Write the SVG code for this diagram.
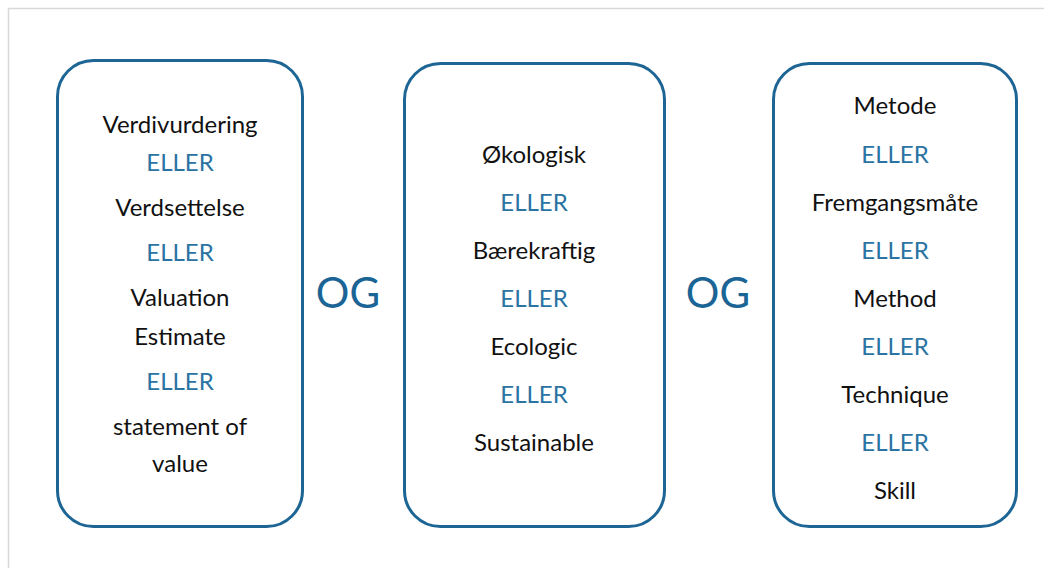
<svg xmlns="http://www.w3.org/2000/svg" width="1044" height="568" viewBox="0 0 1044 568">
  <style>
    .frame { fill: none; stroke: #d9d9d9; stroke-width: 1.5; }
    .box { fill: #ffffff; stroke: #1d6594; stroke-width: 3; }
    .term { font-family: Lato, "Liberation Sans", sans-serif; font-size: 24px; fill: #111111; text-anchor: middle; }
    .or { font-family: Lato, "Liberation Sans", sans-serif; font-size: 24px; fill: #2a73a3; text-anchor: middle; }
    .and { font-family: Lato, "Liberation Sans", sans-serif; font-size: 42px; fill: #1a6596; text-anchor: middle; }
  </style>
  <rect width="1044" height="568" fill="#ffffff"/>
  <path class="frame" d="M8.5 568 V8.5 H1044"/>

  <g id="value">
    <rect class="box" x="57.5" y="60.5" width="245" height="466" rx="36" ry="36"/>
    <text class="term" x="180" y="133">Verdivurdering</text>
    <text class="or" x="180" y="171">ELLER</text>
    <text class="term" x="180" y="216">Verdsettelse</text>
    <text class="or" x="180" y="261">ELLER</text>
    <text class="term" x="180" y="306">Valuation</text>
    <text class="term" x="180" y="345">Estimate</text>
    <text class="or" x="180" y="390">ELLER</text>
    <text class="term" x="180" y="435">statement of</text>
    <text class="term" x="180" y="472">value</text>
  </g>

  <g id="and-1">
    <text class="and" x="348" y="308">OG</text>
  </g>

  <g id="ecology">
    <rect class="box" x="404.5" y="63.5" width="260" height="463" rx="36" ry="36"/>
    <text class="term" x="534" y="163">Økologisk</text>
    <text class="or" x="534" y="211">ELLER</text>
    <text class="term" x="534" y="259">Bærekraftig</text>
    <text class="or" x="534" y="307">ELLER</text>
    <text class="term" x="534" y="355">Ecologic</text>
    <text class="or" x="534" y="403">ELLER</text>
    <text class="term" x="534" y="451">Sustainable</text>
  </g>

  <g id="and-2">
    <text class="and" x="718" y="308">OG</text>
  </g>

  <g id="method">
    <rect class="box" x="773.5" y="63.5" width="243" height="463" rx="36" ry="36"/>
    <text class="term" x="895" y="114">Metode</text>
    <text class="or" x="895" y="163">ELLER</text>
    <text class="term" x="895" y="211">Fremgangsmåte</text>
    <text class="or" x="895" y="259">ELLER</text>
    <text class="term" x="895" y="307">Method</text>
    <text class="or" x="895" y="355">ELLER</text>
    <text class="term" x="895" y="403">Technique</text>
    <text class="or" x="895" y="451">ELLER</text>
    <text class="term" x="895" y="499">Skill</text>
  </g>

  <g id="connectors"></g>
</svg>
